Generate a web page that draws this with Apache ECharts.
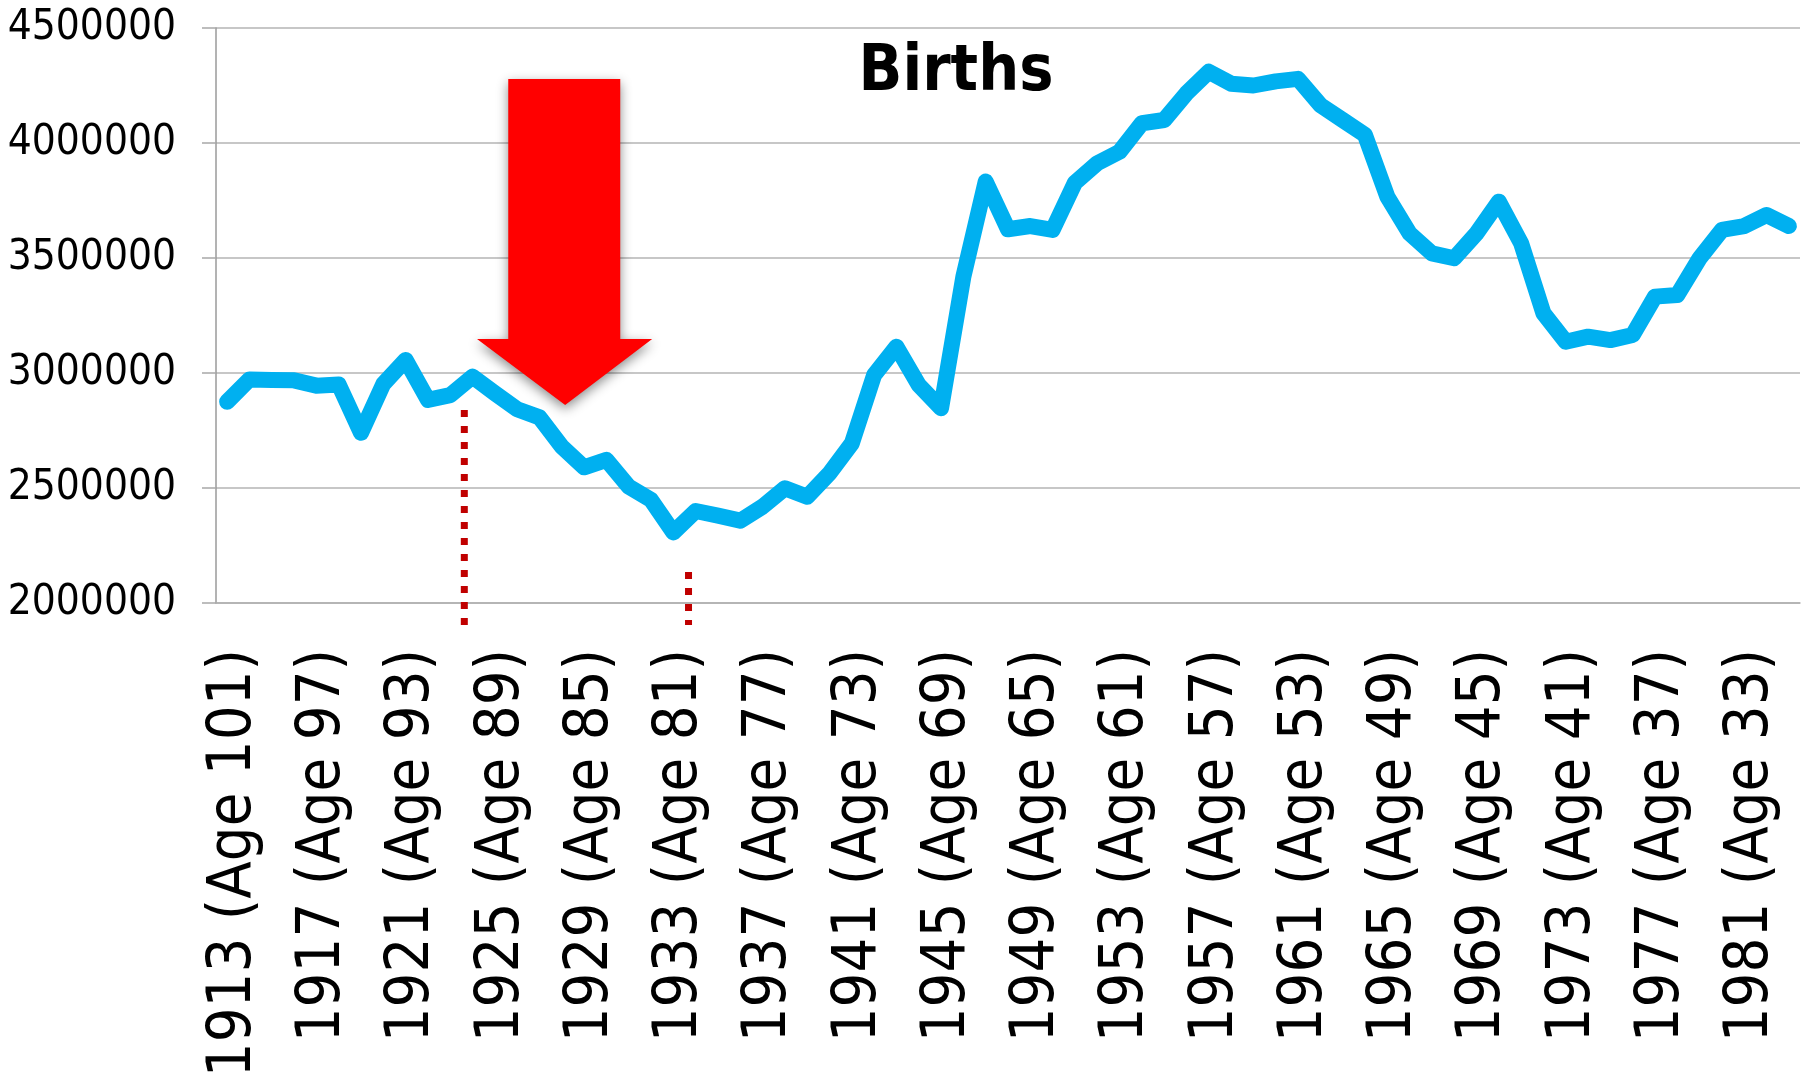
<!DOCTYPE html>
<html>
<head>
<meta charset="utf-8">
<title>Births</title>
<script src="https://cdn.jsdelivr.net/npm/echarts@6/dist/echarts.min.js"></script>
<style>
  html, body {
    margin: 0;
    padding: 0;
    background: #fff;
  }
  #mychart {
    width: 1808px;
    height: 1081px;
  }
</style>
</head>
<body>
<div id="mychart"></div>
<script>
const years = [
  1913, 1914, 1915, 1916, 1917, 1918, 1919, 1920, 1921, 1922, 1923, 1924,
  1925, 1926, 1927, 1928, 1929, 1930, 1931, 1932, 1933, 1934, 1935, 1936,
  1937, 1938, 1939, 1940, 1941, 1942, 1943, 1944, 1945, 1946, 1947, 1948,
  1949, 1950, 1951, 1952, 1953, 1954, 1955, 1956, 1957, 1958, 1959, 1960,
  1961, 1962, 1963, 1964, 1965, 1966, 1967, 1968, 1969, 1970, 1971, 1972,
  1973, 1974, 1975, 1976, 1977, 1978, 1979, 1980, 1981, 1982, 1983
]
const ages = [
  101, 100, 99, 98, 97, 96, 95, 94, 93, 92, 91, 90,
  89, 88, 87, 86, 85, 84, 83, 82, 81, 80, 79, 78,
  77, 76, 75, 74, 73, 72, 71, 70, 69, 68, 67, 66,
  65, 64, 63, 62, 61, 60, 59, 58, 57, 56, 55, 54,
  53, 52, 51, 50, 49, 48, 47, 46, 45, 44, 43, 42,
  41, 40, 39, 38, 37, 36, 35, 34, 33, 32, 31
]
const births = [
  2875000, 2972000, 2970000, 2968000, 2945000, 2950000, 2740000, 2952000, 3057000, 2883000, 2904000, 2984000,
  2912000, 2842000, 2807000, 2680000, 2590000, 2622000, 2506000, 2448000, 2307000, 2400000, 2380000, 2358000,
  2419000, 2499000, 2462000, 2564000, 2694000, 2991000, 3114000, 2948000, 2847000, 3419000, 3832000, 3625000,
  3639000, 3622000, 3827000, 3912000, 3962000, 4086000, 4100000, 4216000, 4310000, 4258000, 4250000, 4268000,
  4279000, 4165000, 4100000, 4035000, 3767000, 3607000, 3520000, 3499000, 3607000, 3745000, 3564000, 3260000,
  3136000, 3158000, 3143000, 3165000, 3332000, 3339000, 3499000, 3622000, 3639000, 3687000, 3639000
]
const categories = years.map((y, i) => y + ' (Age ' + ages[i] + ')')

// annotation anchors in axis units: [category position, value]
const arrowShaft = [[12.6, 4278000], [17.62, 3148000]]
const arrowHead = [[11.2, 3148000], [19.05, 3148000], [15.15, 2861000]]
const markerLines = [
  [[10.63, 2839000], [10.63, 1904000]],
  [[20.68, 2135000], [20.68, 1904000]]
]

const labelFont = "'DejaVu Sans Condensed', 'Liberation Sans', sans-serif"

const chart = echarts.init(document.getElementById('mychart'))

const option = {
  animation: false,
  backgroundColor: '#fff',
  title: {
    text: 'Births',
    left: 956,
    top: 41,
    padding: 0,
    textAlign: 'center',
    textStyle: {
      fontFamily: labelFont,
      fontWeight: 'bold',
      fontSize: 64,
      color: '#000'
    }
  },
  grid: {
    left: 216,
    right: 8,
    top: 28,
    bottom: 478,
    containLabel: false,
    outerBoundsMode: 'none'
  },
  xAxis: {
    type: 'category',
    boundaryGap: true,
    data: categories,
    axisLine: {
      lineStyle: { color: '#b0b0b0', width: 1.5 }
    },
    axisTick: {
      interval: 0,
      length: 22,
      lineStyle: { color: '#bcbcbc', width: 1.5 }
    },
    axisLabel: {
      interval: 3,
      rotate: 90,
      margin: 46,
      color: '#000',
      fontFamily: labelFont,
      fontSize: 61,
      // nudge the rotated text a little to the right of the category centre
      formatter: value => '{a|' + value + '}',
      rich: {
        a: {
          fontFamily: labelFont,
          fontSize: 61,
          color: '#000',
          padding: [14, 0, 0, 0]
        }
      }
    }
  },
  yAxis: {
    type: 'value',
    min: 2000000,
    max: 4500000,
    interval: 500000,
    axisLine: {
      show: true,
      lineStyle: { color: '#9a9a9a', width: 1.5 }
    },
    axisTick: {
      show: true,
      length: 14,
      lineStyle: { color: '#a8a8a8', width: 1.5 }
    },
    axisLabel: {
      margin: 40,
      color: '#000',
      fontFamily: labelFont,
      fontSize: 42,
      formatter: value => String(value)
    },
    splitLine: {
      lineStyle: { color: '#b4b4b4', width: 1.5 }
    }
  },
  series: [{
    name: 'Births',
    type: 'line',
    data: births,
    symbol: 'none',
    lineStyle: {
      color: '#00b0f0',
      width: 16,
      cap: 'round',
      join: 'round'
    },
    z: 3
  }]
}

chart.setOption(option)

// turn [category position, value] into pixels through the axes
function toPixel (pt) {
  const x0 = chart.convertToPixel({ xAxisIndex: 0 }, 0)
  const x1 = chart.convertToPixel({ xAxisIndex: 0 }, 1)
  const y = chart.convertToPixel({ yAxisIndex: 0 }, pt[1])
  return [x0 + pt[0] * (x1 - x0), y]
}

const s0 = toPixel(arrowShaft[0])
const s1 = toPixel(arrowShaft[1])
const h0 = toPixel(arrowHead[0])
const h1 = toPixel(arrowHead[1])
const tip = toPixel(arrowHead[2])

const graphics = [{
  type: 'polygon',
  z: 100,
  shape: {
    points: [
      [s0[0], s0[1]], [s1[0], s0[1]], [s1[0], s1[1]],
      [h1[0], h1[1]], [tip[0], tip[1]], [h0[0], h0[1]],
      [s0[0], s1[1]]
    ]
  },
  style: {
    fill: '#ff0000',
    shadowBlur: 12,
    shadowOffsetX: 0,
    shadowOffsetY: 4,
    shadowColor: 'rgba(0, 0, 0, 0.45)'
  }
}]

markerLines.forEach(pair => {
  const a = toPixel(pair[0])
  const b = toPixel(pair[1])
  graphics.push({
    type: 'line',
    z: 90,
    shape: { x1: a[0], y1: a[1], x2: b[0], y2: b[1] },
    style: {
      stroke: '#c00000',
      lineWidth: 7,
      lineDash: [7, 9]
    }
  })
})

chart.setOption({ graphic: graphics })
</script>
</body>
</html>
